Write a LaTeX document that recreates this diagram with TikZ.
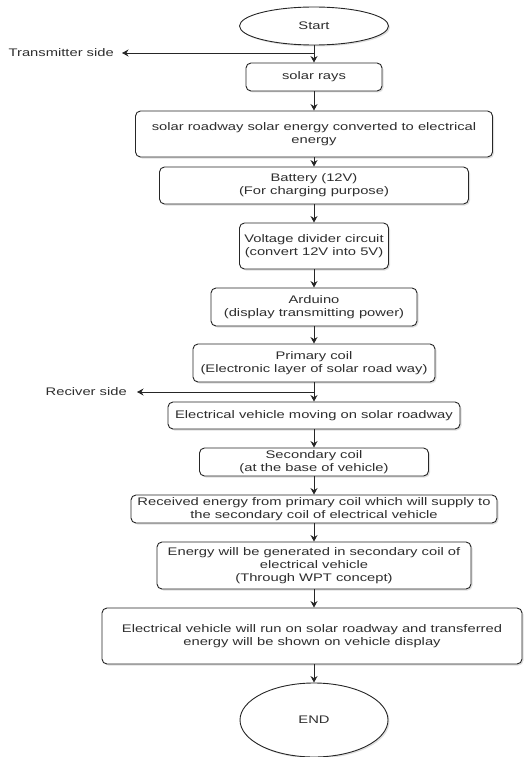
\documentclass[tikz,border=0pt]{standalone}
\usepackage{fontspec}
\setmainfont{Liberation Sans}[FakeStretch=1.34]
\usetikzlibrary{arrows.meta,shapes.geometric,shadows}
\definecolor{ink}{HTML}{2E2E2E}
\definecolor{edgec}{HTML}{262626}
\begin{document}
\begin{tikzpicture}[x=1pt,y=-1pt,
  font=\fontsize{11}{13.3}\selectfont,
  box/.style={draw=edgec, line width=0.9pt, rounded corners=5pt, fill=white,
    align=center, inner sep=0pt, text=ink,
    drop shadow={shadow xshift=1.5pt, shadow yshift=-1.5pt, opacity=0.25}},
  term/.style={ellipse, draw=edgec, line width=0.9pt, fill=white, inner sep=0pt,
    text=ink, drop shadow={shadow xshift=1.5pt, shadow yshift=-1.5pt, opacity=0.25}},
  arr/.style={draw=edgec, line width=0.9pt, -{Stealth[length=6.5pt,width=7pt]}},
  sidelabel/.style={text=ink, inner sep=0pt, anchor=east}]
\useasboundingbox (0,0) rectangle (531,757);

\node[term, minimum width=149pt, minimum height=38pt] (start) at (314,26) {Start};
\node[box, minimum width=136pt, minimum height=28pt] (b1) at (314,77) {solar rays};
\node[box, minimum width=357pt, minimum height=46pt] (b2) at (314,134) {solar roadway solar energy converted to electrical\\energy};
\node[box, minimum width=309pt, minimum height=37pt] (b3) at (314,185.5) {Battery (12V)\\(For charging purpose)};
\node[box, minimum width=149pt, minimum height=46pt] (b4) at (314,246) {Voltage divider circuit\\(convert 12V into 5V)};
\node[box, minimum width=206pt, minimum height=38pt] (b5) at (314,307) {Arduino\\(display transmitting power)};
\node[box, minimum width=242pt, minimum height=38pt] (b6) at (314,363) {Primary coil\\(Electronic layer of solar road way)};
\node[box, minimum width=292pt, minimum height=27pt] (b7) at (314,415.5) {Electrical vehicle moving on solar roadway};
\node[box, minimum width=229pt, minimum height=28pt] (b8) at (314,462) {Secondary coil\\(at the base of vehicle)};
\node[box, minimum width=366pt, minimum height=28pt] (b9) at (314,509) {Received energy from primary coil which will supply to\\the secondary coil of electrical vehicle};
\node[box, minimum width=314pt, minimum height=47pt] (b10) at (314,565.5) {Energy will be generated in secondary coil of\\electrical vehicle\\(Through WPT concept)};
\node[box, minimum width=420pt, minimum height=56pt] (b11) at (312,636) {Electrical vehicle will run on solar roadway and transferred\\energy will be shown on vehicle display};
\node[term, minimum width=148pt, minimum height=74pt] (endn) at (314,720) {END};

\draw[arr] (start) -- (b1);
\draw[arr] (b1) -- (b2);
\draw[arr] (b2) -- (b3);
\draw[arr] (b3) -- (b4);
\draw[arr] (b4) -- (b5);
\draw[arr] (b5) -- (b6);
\draw[arr] (b6) -- (b7);
\draw[arr] (b7) -- (b8);
\draw[arr] (b8) -- (b9);
\draw[arr] (b9) -- (b10);
\draw[arr] (b10.south) -- (b10.south |- b11.north);
\draw[arr] (endn |- b11.south) -- (endn);

\coordinate (t1) at (314,53);
\node[sidelabel] (tx) at (114,53) {Transmitter side};
\draw[arr, shorten >=8pt] (t1) -- (tx.east);

\coordinate (r1) at (314,392);
\node[sidelabel] (rx) at (127,392) {Reciver side};
\draw[arr, shorten >=10pt] (r1) -- (rx.east);
\end{tikzpicture}
\end{document}
